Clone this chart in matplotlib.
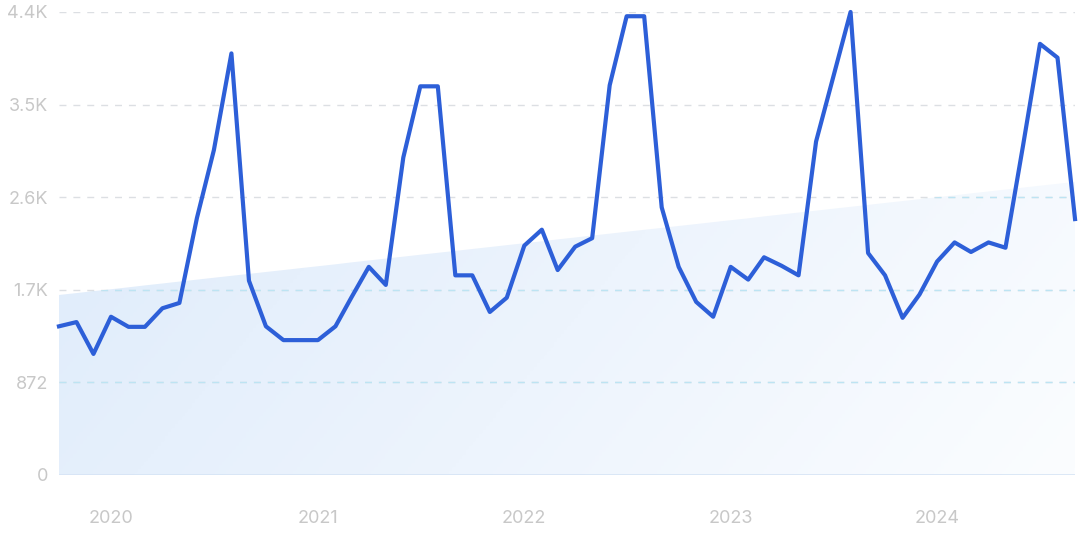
import numpy as np
import pandas as pd
import matplotlib
matplotlib.use("Agg")
import matplotlib.pyplot as plt
from matplotlib.colors import LinearSegmentedColormap

plt.rcParams['font.family'] = ['Inter', 'DejaVu Sans']

# monthly values, Oct 2019 .. Sep 2024
start_month = '2019-10-01'
values = [1400, 1440, 1140, 1490, 1395, 1395, 1570, 1620, 2420, 3060,
          3970, 1830, 1400, 1270, 1270, 1270, 1400, 1670, 1960, 1790,
          2990, 3660, 3660, 1880, 1880, 1535, 1670, 2160, 2310, 1930,
          2150, 2230, 3670, 4320, 4320, 2520, 1960, 1630, 1490, 1960,
          1840, 2050, 1970, 1880, 3140, 3740, 4360, 2090, 1880, 1480,
          1700, 2010, 2190, 2100, 2190, 2140, 3100, 4060, 3930, 2410]
trend_start = 1695
trend_end = 2760
yticks = [0, 872, 1744, 2616, 3488, 4360]
ytick_labels = ['0', '872', '1.7K', '2.6K', '3.5K', '4.4K']
year_labels = ['2020', '2021', '2022', '2023', '2024']

months = pd.date_range(start_month, periods=len(values), freq='MS')
year_ticks = [pd.Timestamp(y + '-01-01') for y in year_labels]

fig = plt.figure(figsize=(10.8, 5.4), dpi=100)
ax = fig.add_axes([0.0546, 0.1204, 0.9408, 0.8574])

# trend area with gradient (blue at left, almost white at bottom right)
trend = np.linspace(trend_start, trend_end, len(values))
poly = ax.fill_between(months, 0, trend, color='none', lw=0)
clip = poly.get_paths()[0]
cmap = LinearSegmentedColormap.from_list('g', ['#dfecfb', '#edf4fd', '#fbfdff'])
gx, gy = np.meshgrid(np.linspace(0, 1, 300), np.linspace(0, 1, 150))
grad = 0.85 * gx + 0.2 * gy   # origin upper: gy=1 is bottom row
x0 = matplotlib.dates.date2num(months[0])
x1 = matplotlib.dates.date2num(months[-1])
img = ax.imshow(grad, cmap=cmap, aspect='auto', origin='upper',
                extent=[x0, x1, 0, trend_end], vmin=0, vmax=1.05, zorder=1)
img.set_clip_path(clip, transform=ax.transData)

for t in yticks[1:]:
    ax.axhline(t, color='#dcdfe3', lw=1, ls=(0, (5, 5)), zorder=2)
    g = ax.axhline(t, color='#bde4f3', lw=1, ls=(0, (5, 5)), zorder=2)
    g.set_clip_path(clip, transform=ax.transData)
ax.axhline(0, color='#d6e4f5', lw=1.2, zorder=2)

ax.plot(months, values, color='#2d5fd8', lw=3, solid_joinstyle='round',
        zorder=3, clip_on=False)

ax.set_xlim(months[0], months[-1])
ax.set_ylim(0, 4360)
ax.set_yticks(yticks)
ax.set_yticklabels(ytick_labels)
ax.set_xticks(year_ticks)
ax.set_xticklabels(year_labels)
ax.tick_params(axis='both', length=0, colors='#c8c8c8', labelsize=13)
ax.tick_params(axis='x', pad=25)
ax.tick_params(axis='y', pad=8)
for s in ax.spines.values():
    s.set_visible(False)

plt.savefig('out.png', dpi=100)
